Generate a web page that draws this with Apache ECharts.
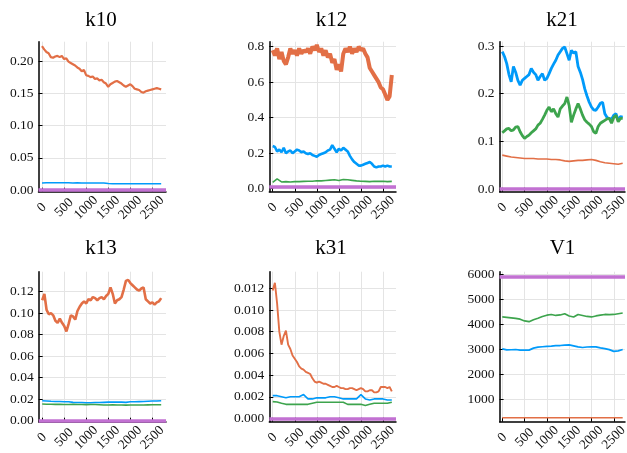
<!DOCTYPE html>
<html><head><meta charset="utf-8">
<script src="https://cdn.jsdelivr.net/npm/echarts@6/dist/echarts.min.js"></script>
<style>html,body{margin:0;padding:0;background:#fff}#c{width:627px;height:453px}</style>
</head><body><div id="c"></div>
<script>
const titles = ['k10','k12','k21','k13','k31','V1'];
const xTicks = [0,500,1000,1500,2000,2500];
const yTicks = [
  [0,0.05,0.10,0.15,0.20],
  [0,0.2,0.4,0.6,0.8],
  [0,0.1,0.2,0.3],
  [0,0.02,0.04,0.06,0.08,0.10,0.12],
  [0,0.002,0.004,0.006,0.008,0.010,0.012],
  [1000,2000,3000,4000,5000,6000]
];
const yDecimals = [2,1,1,2,3,0];

const xs50 = [0,50,100,150,200,250,300,350,400,450,500,550,600,650,700,750,800,850,900,950,1000,1050,1100,1150,1200,1250,1300,1350,1400,1450,1500,1550,1600,1650,1700,1750,1800,1850,1900,1950,2000,2050,2100,2150,2200,2250,2300,2350,2400,2450,2500,2550,2600,2650,2700];
const xs100 = [0,100,200,300,400,500,600,700,800,900,1000,1100,1200,1300,1400,1500,1600,1700,1800,1900,2000,2100,2200,2300,2400,2500,2600,2700];

// k10
const k10_orange = [0.223,0.218,0.214,0.212,0.206,0.205,0.207,0.208,0.206,0.208,0.203,0.204,0.199,0.197,0.195,0.193,0.190,0.188,0.184,0.186,0.178,0.177,0.175,0.176,0.172,0.173,0.170,0.171,0.167,0.165,0.160,0.164,0.166,0.168,0.169,0.167,0.165,0.162,0.160,0.162,0.164,0.161,0.157,0.156,0.155,0.152,0.151,0.153,0.154,0.155,0.156,0.157,0.158,0.157,0.156];
const k10_blue = [0.0110,0.0112,0.0112,0.0111,0.0111,0.0112,0.0111,0.0110,0.0111,0.0110,0.0110,0.0109,0.0110,0.0109,0.0108,0.0100,0.0099,0.0098,0.0098,0.0097,0.0098,0.0097,0.0097,0.0096,0.0097,0.0096,0.0097,0.0096];
const k10_true = 0.0048;
// k12
const k12_orange = [0.78,0.75,0.79,0.73,0.77,0.72,0.70,0.74,0.79,0.76,0.78,0.75,0.79,0.76,0.78,0.77,0.79,0.76,0.80,0.78,0.81,0.77,0.79,0.75,0.78,0.74,0.76,0.71,0.73,0.67,0.70,0.66,0.76,0.79,0.77,0.80,0.76,0.79,0.77,0.80,0.78,0.79,0.76,0.74,0.68,0.66,0.64,0.62,0.60,0.57,0.56,0.53,0.50,0.52,0.64];
const k12_blue = [0.24,0.235,0.21,0.22,0.205,0.23,0.20,0.21,0.215,0.20,0.21,0.22,0.215,0.205,0.21,0.20,0.195,0.20,0.19,0.185,0.18,0.19,0.195,0.20,0.205,0.215,0.22,0.245,0.225,0.205,0.225,0.215,0.23,0.22,0.21,0.185,0.165,0.15,0.14,0.13,0.13,0.135,0.14,0.145,0.15,0.14,0.125,0.12,0.125,0.125,0.13,0.125,0.13,0.125,0.125];
const k12_green = [0.035,0.055,0.038,0.040,0.038,0.040,0.040,0.041,0.042,0.042,0.045,0.044,0.046,0.048,0.050,0.046,0.052,0.050,0.047,0.044,0.042,0.041,0.040,0.042,0.041,0.042,0.040,0.041];
const k12_true = 0.008;
// k21
const k21_blue = [0.288,0.278,0.263,0.240,0.225,0.257,0.245,0.228,0.218,0.228,0.232,0.236,0.240,0.253,0.245,0.240,0.228,0.236,0.242,0.228,0.232,0.242,0.253,0.262,0.270,0.281,0.288,0.295,0.298,0.284,0.270,0.291,0.285,0.288,0.257,0.245,0.230,0.210,0.195,0.182,0.172,0.166,0.165,0.172,0.180,0.182,0.158,0.150,0.148,0.146,0.155,0.158,0.144,0.152,0.151];
const k21_green = [0.118,0.122,0.126,0.127,0.122,0.124,0.130,0.131,0.120,0.112,0.106,0.110,0.113,0.118,0.122,0.126,0.134,0.138,0.146,0.155,0.165,0.172,0.162,0.168,0.158,0.151,0.168,0.174,0.179,0.193,0.175,0.140,0.155,0.168,0.179,0.168,0.155,0.145,0.140,0.136,0.131,0.120,0.117,0.131,0.138,0.141,0.144,0.147,0.148,0.138,0.150,0.155,0.141,0.148,0.148];
const k21_orange = [0.071,0.069,0.067,0.066,0.065,0.064,0.064,0.064,0.063,0.063,0.063,0.062,0.062,0.061,0.059,0.058,0.059,0.060,0.060,0.061,0.062,0.060,0.057,0.055,0.054,0.053,0.052,0.054];
const k21_true = 0.004;
// k13
const k13_orange = [0.112,0.118,0.103,0.099,0.100,0.098,0.093,0.091,0.095,0.091,0.088,0.083,0.090,0.098,0.097,0.094,0.102,0.106,0.109,0.111,0.109,0.113,0.112,0.115,0.114,0.112,0.114,0.115,0.113,0.116,0.118,0.124,0.118,0.109,0.112,0.113,0.115,0.122,0.130,0.131,0.128,0.126,0.124,0.122,0.121,0.123,0.124,0.113,0.111,0.109,0.110,0.108,0.110,0.111,0.114];
const k13_blue = [0.0185,0.0183,0.0180,0.0178,0.0178,0.0176,0.0175,0.0170,0.0168,0.0168,0.0167,0.0167,0.0168,0.0168,0.0170,0.0172,0.0172,0.0173,0.0172,0.0170,0.0175,0.0176,0.0177,0.0178,0.0180,0.0182,0.0183,0.0185];
const k13_green = [0.0155,0.0153,0.0152,0.0151,0.0152,0.0150,0.0150,0.0151,0.0150,0.0150,0.0149,0.0150,0.0150,0.0148,0.0146,0.0145,0.0147,0.0146,0.0145,0.0144,0.0145,0.0146,0.0145,0.0146,0.0147,0.0148,0.0148,0.0148];
const k13_true = 0.003;
// k31
const k31_orange = [0.0118,0.0125,0.0106,0.0080,0.0068,0.0076,0.0081,0.0068,0.0064,0.0058,0.0055,0.0052,0.0048,0.0046,0.0045,0.0043,0.0042,0.0041,0.0037,0.0034,0.0033,0.0034,0.0033,0.0032,0.0032,0.0031,0.0030,0.0029,0.0029,0.0030,0.0029,0.0028,0.0028,0.0027,0.0027,0.0028,0.0028,0.0027,0.0026,0.0027,0.0028,0.0027,0.0025,0.0025,0.0026,0.0026,0.0024,0.0024,0.0025,0.0029,0.0029,0.0029,0.0028,0.0029,0.0025];
const k31_blue = [0.0021,0.0021,0.0020,0.0019,0.0020,0.0020,0.0020,0.0022,0.0018,0.0018,0.0019,0.0019,0.0019,0.0020,0.0020,0.0019,0.0018,0.0018,0.0018,0.0018,0.0022,0.0018,0.0017,0.0018,0.0018,0.0018,0.0017,0.0017];
const k31_green = [0.00155,0.00152,0.0014,0.0013,0.0013,0.0013,0.0013,0.0013,0.0013,0.0014,0.0015,0.0015,0.0015,0.0015,0.0015,0.0015,0.0015,0.0013,0.0013,0.0013,0.0013,0.0012,0.0013,0.0014,0.0014,0.0014,0.0014,0.0015];
const k31_true = 0.0001;
// V1
const V1_blue = [3013,2970,2975,2985,2960,2965,2960,3040,3080,3095,3110,3120,3140,3145,3160,3170,3130,3090,3065,3085,3090,3090,3050,3020,2980,2910,2930,2985];
const V1_green = [4290,4275,4255,4235,4200,4130,4100,4180,4240,4310,4360,4390,4350,4370,4420,4330,4290,4390,4350,4310,4290,4330,4360,4390,4380,4390,4420,4450];
const V1_orange = [250,250,248,250,251,250,249,250,250,251,250,250,249,250,250,251,250,250,249,250,250,250,251,250,249,250,250,250];
const V1_true = 5890;

const BLUE='#009AFA', ORANGE='#E26F46', GREEN='#3DA44D', PURPLE='#C271D2';

const grids = [
  {left:38.5, top:41.7, width:127.5, height:150},
  {left:269.3, top:41.7, width:126.7, height:150},
  {left:499.6, top:41.7, width:125.4, height:150},
  {left:38.7, top:271.7, width:127.3, height:150},
  {left:269.3, top:271.7, width:126.7, height:150},
  {left:499.6, top:271.7, width:125.4, height:150}
];
const xRanges = [[-79,2809],[-77,2795],[-60,2752],[-79,2809],[-77,2795],[-60,2752]];
const yRanges = [[-0.0026,0.2299],[-0.017,0.828],[-0.0057,0.309],[-0.001,0.1386],[-0.0003,0.01353],[92,6104]];
const titleX = [101,331.5,562,101,331,562.5];
const titleY = [10,10,10,238,238,238];

const FONT = '"Liberation Serif", "DejaVu Serif", serif';

function ln(g, xs, ys, color, width, z){
  return {type:'line', xAxisIndex:g, yAxisIndex:g, data: xs.map((x,i)=>[x, ys[i]]),
    symbol:'none', showSymbol:false, silent:true, z:z||2,
    lineStyle:{color:color, width:width||1.4}, itemStyle:{color:color}};
}
function hline(g, v){
  return {type:'line', xAxisIndex:g, yAxisIndex:g, data:[], symbol:'none', silent:true, z:5,
    markLine:{symbol:'none', silent:true, animation:false, label:{show:false},
      lineStyle:{color:PURPLE, width:3.6, type:'solid', opacity:1},
      emphasis:{disabled:true}, data:[{yAxis:v}]}};
}

const series = [
  ln(0, xs100, k10_blue, BLUE, 1.5), ln(0, xs50, k10_orange, ORANGE, 2.2), hline(0, k10_true),
  ln(1, xs50, k12_blue, BLUE, 2.6), ln(1, xs50, k12_orange, ORANGE, 4), ln(1, xs100, k12_green, GREEN, 1.6), hline(1, k12_true),
  ln(2, xs50, k21_blue, BLUE, 2.8), ln(2, xs100, k21_orange, ORANGE, 1.6), ln(2, xs50, k21_green, GREEN, 2.8), hline(2, k21_true),
  ln(3, xs100, k13_blue, BLUE, 1.6), ln(3, xs50, k13_orange, ORANGE, 2.6), ln(3, xs100, k13_green, GREEN, 1.6), hline(3, k13_true),
  ln(4, xs100, k31_blue, BLUE, 1.6), ln(4, xs50, k31_orange, ORANGE, 1.9), ln(4, xs100, k31_green, GREEN, 1.6), hline(4, k31_true),
  ln(5, xs100, V1_blue, BLUE, 1.7), ln(5, xs100, V1_orange, ORANGE, 1.6), ln(5, xs100, V1_green, GREEN, 1.7), hline(5, V1_true)
];

const gridLine = {show:true, lineStyle:{color:'#e4e4e4', width:1}};
const option = {
  animation:false,
  backgroundColor:'#fff',
  title: titles.map((t,i)=>({text:t, left:titleX[i], top:titleY[i], textAlign:'center', padding:0,
    textStyle:{fontFamily:FONT, fontSize:21, fontWeight:'normal', color:'#000'}})),
  grid: grids.map(g=>Object.assign({containLabel:false, outerBoundsMode:'none'}, g)),
  xAxis: grids.map((g,i)=>({type:'value', gridIndex:i, min:xRanges[i][0], max:xRanges[i][1],
    axisLine:{show:true, onZero:false, lineStyle:{color:'#000', width:1.5}},
    axisTick:{show:true, inside:true, length:4, customValues:xTicks, lineStyle:{color:'#000', width:1}},
    axisLabel:{show:true, customValues:xTicks, rotate:45, margin:16, align:'center', verticalAlign:'middle',
      fontFamily:FONT, fontSize:13.5, color:'#111',
      formatter:v=>String(v), showMinLabel:true, showMaxLabel:true, hideOverlap:false},
    splitLine:gridLine})),
  yAxis: grids.map((g,i)=>({type:'value', gridIndex:i, min:yRanges[i][0], max:yRanges[i][1],
    axisLine:{show:true, onZero:false, lineStyle:{color:'#000', width:1.5}},
    axisTick:{show:true, inside:true, length:4, customValues:yTicks[i], lineStyle:{color:'#000', width:1}},
    axisLabel:{show:true, customValues:yTicks[i], margin:5, fontFamily:FONT, fontSize:13.5, color:'#111',
      formatter:v=>Number(v).toFixed(yDecimals[i]), hideOverlap:false},
    splitLine:gridLine})),
  series: series
};
const chart = echarts.init(document.getElementById('c'), null, {renderer:'canvas'});
chart.setOption(option);
</script>
</body></html>
